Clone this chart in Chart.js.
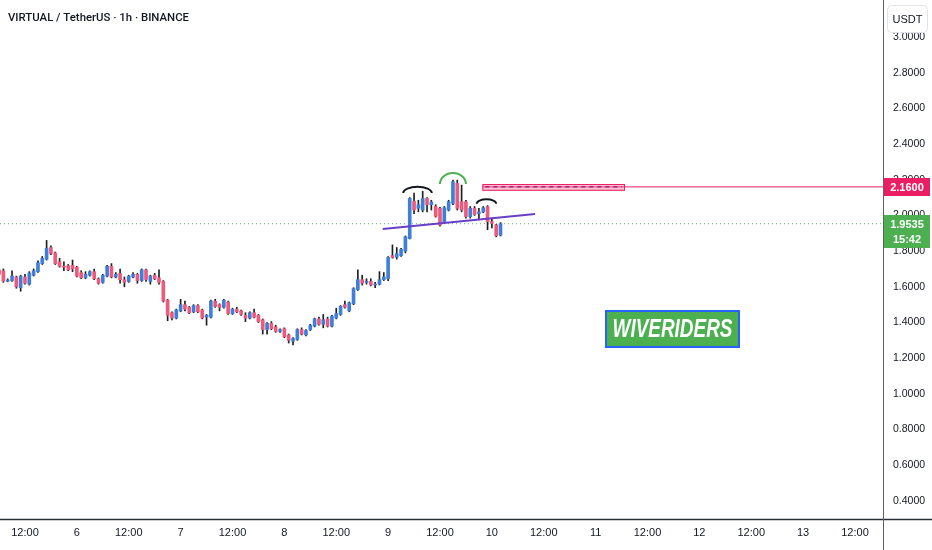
<!doctype html>
<html>
<head>
<meta charset="utf-8">
<title>VIRTUAL / TetherUS 1h</title>
<script src="https://cdn.jsdelivr.net/npm/chart.js@4"></script>
<style>
  html, body { margin: 0; padding: 0; background: #fff; }
</style>
</head>
<body>
<canvas id="chart" width="932" height="550"></canvas>

<script>
// 1h candles, hours counted from the 5th 00:00; first candle opens 5th 06:00
var firstHour = 6;

var opens = [
  1.695, 1.689, 1.632, 1.635, 1.654, 1.595, 1.655, 1.615, 1.665, 1.685,
  1.730, 1.755, 1.820, 1.790, 1.740, 1.715, 1.718, 1.720, 1.710, 1.680,
  1.650, 1.665, 1.685, 1.645, 1.625, 1.660, 1.715, 1.655, 1.675, 1.640,
  1.630, 1.655, 1.670, 1.635, 1.695, 1.630, 1.665, 1.650, 1.630, 1.525,
  1.455, 1.425, 1.465, 1.500, 1.485, 1.460, 1.495, 1.470, 1.430, 1.430,
  1.520, 1.500, 1.485, 1.515, 1.450, 1.475, 1.465, 1.440, 1.425, 1.455,
  1.440, 1.415, 1.360, 1.395, 1.375, 1.350, 1.365, 1.330, 1.295, 1.305,
  1.360, 1.330, 1.360, 1.380, 1.420, 1.390, 1.420, 1.380, 1.425, 1.445,
  1.500, 1.465, 1.505, 1.585, 1.640, 1.625, 1.630, 1.610, 1.615, 1.640,
  1.645, 1.775, 1.765, 1.775, 1.800, 1.870, 2.080, 2.040, 2.030, 2.095,
  2.060, 2.050, 2.040, 1.960, 2.030, 2.067, 2.180, 2.077, 2.077, 1.993,
  2.040, 2.010, 2.020, 2.049, 1.965, 1.946, 1.890
];
var highs = [
  1.710, 1.700, 1.645, 1.690, 1.660, 1.665, 1.670, 1.685, 1.700, 1.745,
  1.770, 1.860, 1.830, 1.795, 1.760, 1.740, 1.725, 1.750, 1.715, 1.690,
  1.685, 1.690, 1.700, 1.650, 1.670, 1.720, 1.730, 1.680, 1.700, 1.655,
  1.665, 1.680, 1.675, 1.700, 1.700, 1.665, 1.675, 1.695, 1.635, 1.530,
  1.460, 1.475, 1.530, 1.520, 1.490, 1.500, 1.500, 1.475, 1.445, 1.525,
  1.530, 1.505, 1.530, 1.520, 1.480, 1.485, 1.470, 1.455, 1.460, 1.475,
  1.445, 1.420, 1.400, 1.405, 1.385, 1.365, 1.370, 1.335, 1.315, 1.365,
  1.370, 1.360, 1.390, 1.425, 1.430, 1.445, 1.430, 1.440, 1.480, 1.495,
  1.520, 1.515, 1.595, 1.695, 1.665, 1.645, 1.645, 1.625, 1.685, 1.680,
  1.770, 1.835, 1.820, 1.815, 1.885, 2.100, 2.125, 2.085, 2.135, 2.100,
  2.085, 2.060, 2.045, 2.050, 2.085, 2.198, 2.198, 2.170, 2.085, 2.050,
  2.050, 2.040, 2.050, 2.055, 1.985, 1.950, 1.960
];
var lows = [
  1.665, 1.625, 1.628, 1.630, 1.592, 1.575, 1.615, 1.610, 1.660, 1.680,
  1.725, 1.750, 1.780, 1.725, 1.710, 1.690, 1.690, 1.685, 1.655, 1.645,
  1.645, 1.660, 1.640, 1.615, 1.620, 1.655, 1.650, 1.650, 1.620, 1.600,
  1.625, 1.650, 1.620, 1.630, 1.630, 1.615, 1.640, 1.615, 1.515, 1.410,
  1.415, 1.420, 1.460, 1.465, 1.450, 1.455, 1.455, 1.420, 1.385, 1.425,
  1.485, 1.465, 1.480, 1.445, 1.445, 1.455, 1.440, 1.405, 1.420, 1.425,
  1.400, 1.335, 1.335, 1.360, 1.345, 1.345, 1.315, 1.285, 1.275, 1.300,
  1.330, 1.325, 1.355, 1.375, 1.385, 1.370, 1.375, 1.375, 1.420, 1.440,
  1.480, 1.460, 1.500, 1.580, 1.610, 1.615, 1.605, 1.595, 1.610, 1.635,
  1.635, 1.760, 1.755, 1.770, 1.790, 1.868, 2.010, 2.020, 2.020, 2.020,
  2.030, 1.990, 1.940, 1.955, 2.025, 2.060, 2.030, 2.020, 1.985, 1.985,
  2.000, 1.975, 2.015, 1.920, 1.930, 1.880, 1.885
];
var closes = [
  1.670, 1.632, 1.638, 1.660, 1.600, 1.660, 1.620, 1.677, 1.690, 1.735,
  1.760, 1.815, 1.787, 1.730, 1.715, 1.710, 1.695, 1.700, 1.660, 1.650,
  1.670, 1.685, 1.645, 1.620, 1.665, 1.715, 1.655, 1.670, 1.640, 1.625,
  1.660, 1.670, 1.635, 1.695, 1.640, 1.660, 1.645, 1.625, 1.520, 1.440,
  1.425, 1.470, 1.500, 1.475, 1.455, 1.495, 1.460, 1.425, 1.440, 1.520,
  1.490, 1.485, 1.525, 1.450, 1.475, 1.460, 1.445, 1.425, 1.455, 1.430,
  1.405, 1.360, 1.395, 1.365, 1.350, 1.360, 1.320, 1.300, 1.310, 1.360,
  1.335, 1.355, 1.385, 1.420, 1.390, 1.415, 1.380, 1.435, 1.450, 1.490,
  1.485, 1.510, 1.590, 1.640, 1.620, 1.630, 1.610, 1.615, 1.640, 1.655,
  1.765, 1.765, 1.785, 1.810, 1.880, 2.095, 2.030, 2.060, 2.095, 2.060,
  2.075, 1.995, 1.946, 2.043, 2.077, 2.189, 2.040, 2.030, 1.993, 2.040,
  2.005, 2.020, 2.043, 1.965, 1.955, 1.886, 1.9535
];

// axis ticks
var yTickValues = [0.4, 0.6, 0.8, 1.0, 1.2, 1.4, 1.6, 1.8, 2.0, 2.2, 2.4, 2.6, 2.8, 3.0];
var xTickHours = [12, 24, 36, 48, 60, 72, 84, 96, 108, 120, 132, 144, 156, 168, 180, 192, 204];
var xTickLabels = ['12:00', '6', '12:00', '7', '12:00', '8', '12:00', '9', '12:00',
                   '10', '12:00', '11', '12:00', '12', '12:00', '13', '12:00'];

// drawings on the chart
var lastPrice = 1.9535;
var lastPriceTimer = '15:42';
var levelPrice = 2.16;
var levelZone = [117.8, 150.8, 2.138, 2.176];   // x from, x to, price low, price high
var levelStart = 117.8;
var trendX = [94.75, 130.0];
var trendY = [1.924, 2.008];
var arcs = [
  // x from, x to, base price, top price, colour
  [99.5, 106.1, 2.125, 2.161, '#131722'],
  [108.0, 114.0, 2.176, 2.238, '#4caf50'],
  [116.5, 121.0, 2.065, 2.090, '#131722']
];

var UP = '#3f7fd9', DOWN = '#ec5b7c', WICK = '#1e1f24';
var xMin = 6.22, xMax = 210.48, yMin = 0.299, yMax = 3.207;

var bodies = [], wicks = [], bodyColors = [];
for (var i = 0; i < opens.length; i++) {
  var h = firstHour + i;
  bodies.push({ x: h, y: [opens[i], closes[i]] });
  wicks.push({ x: h, y: [lows[i], highs[i]] });
  bodyColors.push(closes[i] >= opens[i] ? UP : DOWN);
}

// Stuff TradingView draws on top: zone, arcs, axis lines, price tags, header, logo
var overlay = {
  id: 'overlay',
  afterDatasetsDraw: function (chart) {
    var ctx = chart.ctx, xs = chart.scales.x, ys = chart.scales.y, a = chart.chartArea;
    ctx.save();
    ctx.beginPath();
    ctx.rect(a.left, a.top, a.right - a.left, a.bottom - a.top);
    ctx.clip();

    // resistance zone
    var zx0 = xs.getPixelForValue(levelZone[0]), zx1 = xs.getPixelForValue(levelZone[1]);
    var zy0 = ys.getPixelForValue(levelZone[3]), zy1 = ys.getPixelForValue(levelZone[2]);
    ctx.fillStyle = 'rgba(240, 98, 146, 0.4)';
    ctx.fillRect(zx0, zy0, zx1 - zx0, zy1 - zy0);
    ctx.strokeStyle = '#e91e63';
    ctx.lineWidth = 1;
    ctx.strokeRect(zx0 + 0.5, zy0 + 0.5, zx1 - zx0 - 1, zy1 - zy0 - 1);
    ctx.setLineDash([4, 4]);
    ctx.strokeStyle = '#a3217a';
    ctx.lineWidth = 1.5;
    var zm = ys.getPixelForValue(levelPrice);
    ctx.beginPath();
    ctx.moveTo(zx0 + 3, zm);
    ctx.lineTo(zx1 - 3, zm);
    ctx.stroke();
    ctx.setLineDash([]);

    // head and shoulders arcs
    ctx.lineWidth = 2;
    arcs.forEach(function (r) {
      var x0 = xs.getPixelForValue(r[0]), x1 = xs.getPixelForValue(r[1]);
      var yb = ys.getPixelForValue(r[2]), yt = ys.getPixelForValue(r[3]);
      ctx.strokeStyle = r[4];
      ctx.beginPath();
      ctx.ellipse((x0 + x1) / 2, yb, (x1 - x0) / 2, yb - yt, 0, Math.PI, 2 * Math.PI);
      ctx.stroke();
    });
    ctx.restore();
  },
  afterDraw: function (chart) {
    var ctx = chart.ctx, ys = chart.scales.y, a = chart.chartArea;
    var W = chart.width, H = chart.height;
    ctx.save();

    // axis lines
    ctx.strokeStyle = '#2a2e39';
    ctx.lineWidth = 1.5;
    ctx.beginPath();
    ctx.moveTo(0, a.bottom + 0.5);
    ctx.lineTo(W, a.bottom + 0.5);
    ctx.stroke();
    ctx.strokeStyle = '#5d606b';
    ctx.lineWidth = 1;
    ctx.beginPath();
    ctx.moveTo(a.right + 0.5, 0);
    ctx.lineTo(a.right + 0.5, H);
    ctx.stroke();

    // price tags on the right scale
    function tag(price, lines, color) {
      var y = ys.getPixelForValue(price);
      var top = Math.round(y) - 9, hgt = 18 + (lines.length - 1) * 15;
      ctx.fillStyle = color;
      ctx.fillRect(a.right + 1, top, W - a.right - 3, hgt);
      ctx.fillStyle = '#ffffff';
      ctx.font = 'bold 11px "Liberation Sans", sans-serif';
      ctx.textAlign = 'center';
      ctx.textBaseline = 'middle';
      lines.forEach(function (t, k) {
        ctx.fillText(t, a.right + 24, top + 9.5 + k * 15);
      });
    }
    tag(levelPrice, ['2.1600'], '#e91e63');
    tag(lastPrice, [lastPrice.toFixed(4), lastPriceTimer], '#4caf50');

    // currency box
    ctx.fillStyle = '#ffffff';
    ctx.strokeStyle = '#e0e3eb';
    ctx.lineWidth = 1;
    ctx.beginPath();
    ctx.roundRect(887.5, 5.5, 40, 27, 4);
    ctx.fill();
    ctx.stroke();
    ctx.fillStyle = '#131722';
    ctx.font = '11px "Liberation Sans", sans-serif';
    ctx.textAlign = 'center';
    ctx.textBaseline = 'middle';
    ctx.fillText('USDT', 907.5, 19.5);

    // header
    ctx.textAlign = 'left';
    ctx.font = '500 11.5px Roboto, "Liberation Sans", sans-serif';
    var hw = ctx.measureText('VIRTUAL / TetherUS · 1h · BINANCE').width;
    ctx.save();
    ctx.translate(8, 18);
    ctx.scale(181 / hw, 1);
    ctx.fillText('VIRTUAL / TetherUS · 1h · BINANCE', 0, 0);
    ctx.restore();

    // logo
    ctx.fillStyle = '#4caf50';
    ctx.fillRect(606, 311, 133, 36);
    ctx.strokeStyle = '#2962ff';
    ctx.lineWidth = 2;
    ctx.strokeRect(606, 311, 133, 36);
    ctx.fillStyle = '#ffffff';
    ctx.font = 'italic bold 25px "Liberation Sans", sans-serif';
    var tw = ctx.measureText('WIVERIDERS').width;
    ctx.translate(672.5, 329.5);
    ctx.scale(120 / tw, 1);
    ctx.textAlign = 'center';
    ctx.fillText('WIVERIDERS', 0, 1);
    ctx.restore();
  }
};

var tickFont = { family: '"Liberation Sans", sans-serif', size: 11 };

new Chart(document.getElementById('chart'), {
  type: 'bar',
  data: {
    datasets: [
      {
        label: 'body',
        data: bodies,
        backgroundColor: bodyColors,
        barThickness: 3,
        minBarLength: 1,
        grouped: false,
        order: 2
      },
      {
        label: 'wick',
        data: wicks,
        backgroundColor: WICK,
        barThickness: 1,
        grouped: false,
        order: 3
      },
      {
        type: 'line',
        label: 'last',
        data: [{ x: xMin, y: lastPrice }, { x: xMax, y: lastPrice }],
        borderColor: 'rgba(76, 175, 80, 0.9)',
        borderWidth: 1,
        borderDash: [1, 3],
        pointRadius: 0,
        order: 4
      },
      {
        type: 'line',
        label: 'level',
        data: [{ x: levelStart, y: levelPrice }, { x: xMax, y: levelPrice }],
        borderColor: '#e91e63',
        borderWidth: 1,
        pointRadius: 0,
        order: 1
      },
      {
        type: 'line',
        label: 'trend',
        data: [{ x: trendX[0], y: trendY[0] }, { x: trendX[1], y: trendY[1] }],
        borderColor: '#6a3fc8',
        borderWidth: 2,
        pointRadius: 0,
        order: 1
      }
    ]
  },
  options: {
    responsive: false,
    animation: false,
    layout: { padding: 0 },
    plugins: { legend: { display: false }, tooltip: { enabled: false } },
    scales: {
      x: {
        type: 'linear',
        min: xMin,
        max: xMax,
        offset: false,
        grid: { display: false, drawTicks: false },
        border: { display: false },
        afterBuildTicks: function (s) { s.ticks = xTickHours.map(function (v) { return { value: v }; }); },
        afterFit: function (s) { s.height = 31; s.paddingLeft = 0; s.paddingRight = 0; },
        ticks: {
          autoSkip: false,
          maxRotation: 0,
          padding: 7,
          color: '#131722',
          font: tickFont,
          callback: function (v, i) { return xTickLabels[i]; }
        }
      },
      y: {
        type: 'linear',
        position: 'right',
        min: yMin,
        max: yMax,
        grid: { display: false, drawTicks: false },
        border: { display: false },
        afterBuildTicks: function (s) { s.ticks = yTickValues.map(function (v) { return { value: v }; }); },
        afterFit: function (s) { s.width = 49; s.paddingTop = 0; s.paddingBottom = 0; },
        ticks: {
          padding: 10,
          color: '#131722',
          font: { family: '"Liberation Sans", sans-serif', size: 10.5 },
          callback: function (v) { return Number(v).toFixed(4); }
        }
      }
    }
  },
  plugins: [overlay]
});
</script>
</body>
</html>
